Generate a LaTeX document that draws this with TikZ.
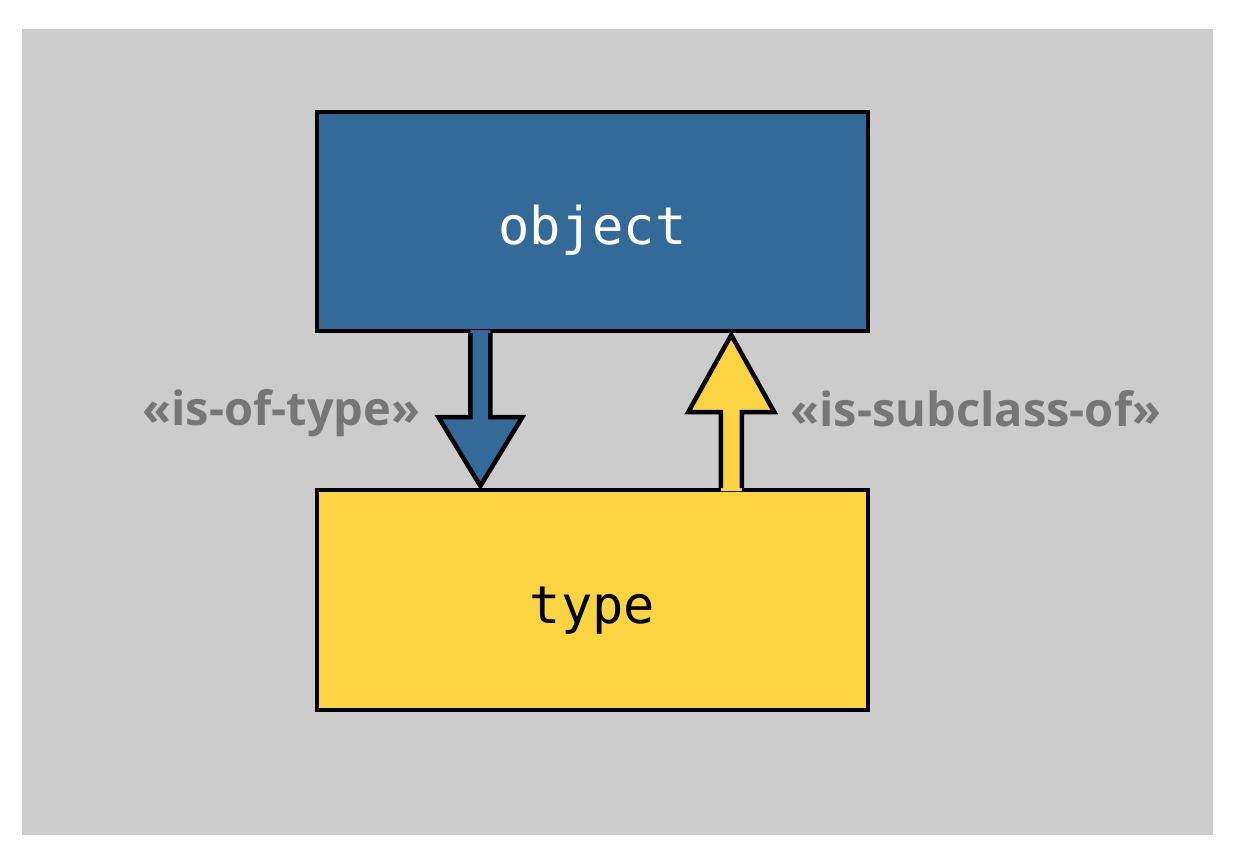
\documentclass[tikz,border=0pt]{standalone}
\usepackage{fontspec}
\setmainfont{Open Sans}
\setmonofont{DejaVu Sans Mono}
\usetikzlibrary{calc,positioning}

\definecolor{backgray}{HTML}{CCCCCC}
\definecolor{objblue}{HTML}{336A98}
\definecolor{typeyellow}{HTML}{FAD541}
\definecolor{labelgray}{HTML}{767676}

\begin{document}
\begin{tikzpicture}[x=1pt,y=-1pt,
  box/.style={draw=black,line width=4pt,minimum width=551pt,minimum height=219pt,
    text height=46pt,text depth=0pt,font=\ttfamily\fontsize{52}{60}\selectfont},
  rel/.style={text=labelgray,inner sep=0pt,font=\bfseries\fontsize{47}{52}\selectfont},
  fat/.style={draw=black,line width=4.5pt,line join=miter}]

 \useasboundingbox (0,0) rectangle (1242,865);
 \fill[white] (0,0) rectangle (1242,865);
 \fill[backgray] (22,29) rectangle (1213,835); % slide area

 \node[box,fill=objblue,text=white] (obj) at (592.5,221.5) {object};
 \node[box,fill=typeyellow,text=black,minimum height=220pt] (typ) at (592.5,600) {type};

 \coordinate (isof) at ($(obj.south west)!0.298!(obj.south east)$);
 \coordinate (subc) at ($(typ.north west)!0.75!(typ.north east)$);

% object -> type, blue arrow
 \fill[objblue] ($(isof)+(-10,-3)$) -- ($(isof)+(-10,84)$) -- ($(isof)+(-42,84)$)
   -- ($(isof |- typ.north)+(0,-2)$) -- ($(isof)+(42,84)$) -- ($(isof)+(10,84)$)
   -- ($(isof)+(10,-3)$) -- cycle;
 \draw[fat] ($(isof)+(-10,0)$) -- ($(isof)+(-10,84)$) -- ($(isof)+(-42,84)$) coordinate (isofhead)
   -- ($(isof |- typ.north)+(0,-2)$) -- ($(isof)+(42,84)$) -- ($(isof)+(10,84)$)
   -- ($(isof)+(10,0)$);

% type -> object, yellow arrow
 \fill[typeyellow] ($(subc)+(-10.5,3)$) -- ($(subc)+(-10.5,-76)$) -- ($(subc)+(-43,-76)$)
   -- ($(subc |- obj.south)+(0,2)$) -- ($(subc)+(43,-76)$) -- ($(subc)+(10.5,-76)$)
   -- ($(subc)+(10.5,3)$) -- cycle;
 \draw[fat] ($(subc)+(-10.5,0)$) -- ($(subc)+(-10.5,-76)$) -- ($(subc)+(-43,-76)$)
   -- ($(subc |- obj.south)+(0,2)$) -- ($(subc)+(43,-76)$) coordinate (subchead)
   -- ($(subc)+(10.5,-76)$) -- ($(subc)+(10.5,0)$);

 \node[rel,left=18pt of isofhead,yshift=4pt] (isoflabel) {«is-of-type»};
 \node[rel,right=16pt of subchead,yshift=3pt] (subclabel) {«is-subclass-of»};

\end{tikzpicture}
\end{document}
